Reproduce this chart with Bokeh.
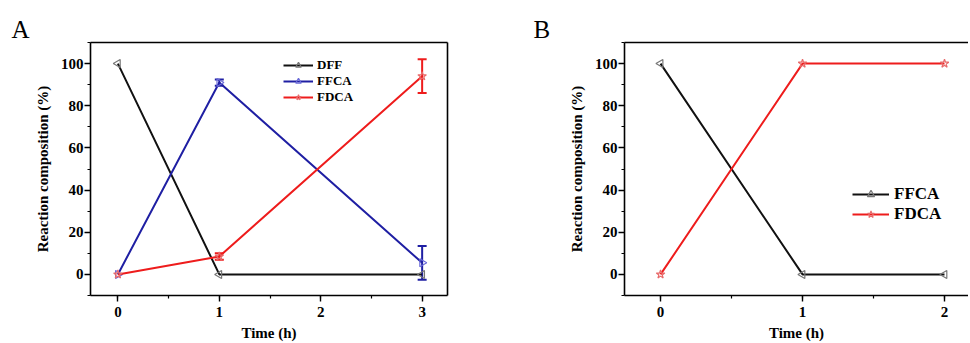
import math
from bokeh.plotting import figure
from bokeh.models import (ColumnDataSource, Whisker, TeeHead, Legend, LegendItem, Title,
                          SingleIntervalTicker, LinearAxis, Range1d, FixedTicker)
from bokeh.layouts import row
from bokeh.embed import file_html
from bokeh.resources import INLINE

# ---------------- data ----------------
time_a = [0, 1, 3]
dff_a = [100, 0, 0]
ffca_a = [0, 91, 5.5]
ffca_a_err = [0, 1.5, 8]
fdca_a = [0, 8.5, 94]
fdca_a_err = [0, 1.5, 8]

time_b = [0, 1, 2]
ffca_b = [100, 0, 0]
fdca_b = [0, 100, 100]

x_ticks_a = [0, 1, 2, 3]
x_ticks_b = [0, 1, 2]
y_ticks = [0, 20, 40, 60, 80, 100]

SERIF = "Liberation Serif"
BLACK = "#111111"
BLUE = "#1f1fa3"
RED = "#ee1c1c"


def style_axes(p):
    xax = p.xaxis[0]
    yax = p.yaxis[0]
    xax.ticker = SingleIntervalTicker(interval=1, num_minor_ticks=2)
    yax.ticker = SingleIntervalTicker(interval=20, num_minor_ticks=2)
    for ax in (xax, yax):
        ax.axis_line_color = "black"
        ax.axis_line_width = 1.6
        ax.major_tick_line_color = "black"
        ax.minor_tick_line_color = "black"
        ax.major_tick_line_width = 1.4
        ax.minor_tick_line_width = 1.2
        ax.major_tick_out = 6
        ax.major_tick_in = 0
        ax.minor_tick_out = 3
        ax.minor_tick_in = 0
        ax.major_label_text_font = SERIF
        ax.major_label_text_font_style = "bold"
        ax.major_label_text_font_size = "15px"
        ax.major_label_text_color = "black"
        ax.axis_label_text_font = SERIF
        ax.axis_label_text_font_style = "bold"
        ax.axis_label_text_font_size = "15px"
        ax.axis_label_text_color = "black"
    xax.major_label_standoff = 5
    xax.axis_label_standoff = 5
    yax.major_label_standoff = 1
    yax.axis_label_standoff = 7
    xax.axis_label = "Time (h)"
    yax.axis_label = "Reaction composition (%)"
    p.xgrid.visible = False
    p.ygrid.visible = False


def frame_line(p, loc):
    ax = LinearAxis(ticker=FixedTicker(ticks=[]), major_label_text_font_size="0px",
                    axis_line_color="black", axis_line_width=1.6,
                    major_tick_line_color=None, minor_tick_line_color=None)
    p.add_layout(ax, loc)


def panel_letter(p, letter, offset):
    t = Title(text=letter, align="left", offset=offset, text_font=SERIF,
              text_font_size="25px", text_font_style="normal", text_color="black",
              standoff=0, vertical_align="bottom")
    p.add_layout(t, "above")


# ---------------- panel A ----------------
pa = figure(width=515, height=343, output_backend="svg", toolbar_location=None,
            x_range=Range1d(-0.27, 3.25), y_range=Range1d(-10, 110),
            min_border_left=90, min_border_right=68, min_border_top=42, min_border_bottom=47,
            background_fill_color="white", border_fill_color="white")
pa.outline_line_color = None
style_axes(pa)
frame_line(pa, "above")
frame_line(pa, "right")
panel_letter(pa, "A", -79)

l1 = pa.line(time_a, dff_a, line_color=BLACK, line_width=2)
m1 = pa.scatter(time_a, dff_a, marker="triangle", angle=math.pi / 2, size=8,
                line_color="#777777", fill_color=None, line_width=1.2)
l2 = pa.line(time_a, ffca_a, line_color=BLUE, line_width=2)
m2 = pa.scatter(time_a, ffca_a, marker="triangle", angle=-math.pi / 2, size=8,
                line_color="#6a6ad8", fill_color=None, line_width=1.2)
l3 = pa.line(time_a, fdca_a, line_color=RED, line_width=2)
m3 = pa.scatter(time_a, fdca_a, marker="star", size=9,
                line_color="#e86a6a", fill_color=None, line_width=1.2)

for t, v, e, c in ((time_a, ffca_a, ffca_a_err, BLUE), (time_a, fdca_a, fdca_a_err, RED)):
    xs = [ti for ti, ei in zip(t, e) if ei > 0]
    up = [vi + ei for vi, ei in zip(v, e) if ei > 0]
    lo = [vi - ei for vi, ei in zip(v, e) if ei > 0]
    src = ColumnDataSource(dict(x=xs, upper=up, lower=lo))
    w = Whisker(base="x", upper="upper", lower="lower", source=src,
                line_color=c, line_width=2,
                upper_head=TeeHead(size=9, line_color=c, line_width=2),
                lower_head=TeeHead(size=9, line_color=c, line_width=2))
    pa.add_layout(w)

leg_a = Legend(items=[LegendItem(label="DFF", renderers=[l1, m1]),
                      LegendItem(label="FFCA", renderers=[l2, m2]),
                      LegendItem(label="FDCA", renderers=[l3, m3])],
               location=(193, 190), orientation="vertical",
               border_line_color=None, background_fill_alpha=0,
               label_text_font=SERIF, label_text_font_style="bold",
               label_text_font_size="13px", label_text_color="black",
               glyph_width=30, glyph_height=14, label_height=14, spacing=0,
               label_standoff=4, padding=0, margin=0)
pa.add_layout(leg_a, "center")

# ---------------- panel B ----------------
pb = figure(width=453, height=343, output_backend="svg", toolbar_location=None,
            x_range=Range1d(-0.254, 2.169), y_range=Range1d(-10, 110),
            min_border_left=109, min_border_right=0, min_border_top=42, min_border_bottom=47,
            background_fill_color="white", border_fill_color="white")
pb.outline_line_color = None
style_axes(pb)
frame_line(pb, "above")
panel_letter(pb, "B", -91)

k1 = pb.line(time_b, ffca_b, line_color=BLACK, line_width=2)
n1 = pb.scatter(time_b, ffca_b, marker="triangle", angle=math.pi / 2, size=8,
                line_color="#777777", fill_color=None, line_width=1.2)
k2 = pb.line(time_b, fdca_b, line_color=RED, line_width=2)
n2 = pb.scatter(time_b, fdca_b, marker="star", size=9,
                line_color="#e86a6a", fill_color=None, line_width=1.2)

leg_b = Legend(items=[LegendItem(label="FFCA", renderers=[k1, n1]),
                      LegendItem(label="FDCA", renderers=[k2, n2])],
               location=(228, 71), orientation="vertical",
               border_line_color=None, background_fill_alpha=0,
               label_text_font=SERIF, label_text_font_style="bold",
               label_text_font_size="17px", label_text_color="black",
               glyph_width=37, glyph_height=18, label_height=18, spacing=0,
               label_standoff=5, padding=0, margin=0)
pb.add_layout(leg_b, "center")

layout = row(pa, pb)
open("out.html", "w").write(file_html(layout, INLINE))
